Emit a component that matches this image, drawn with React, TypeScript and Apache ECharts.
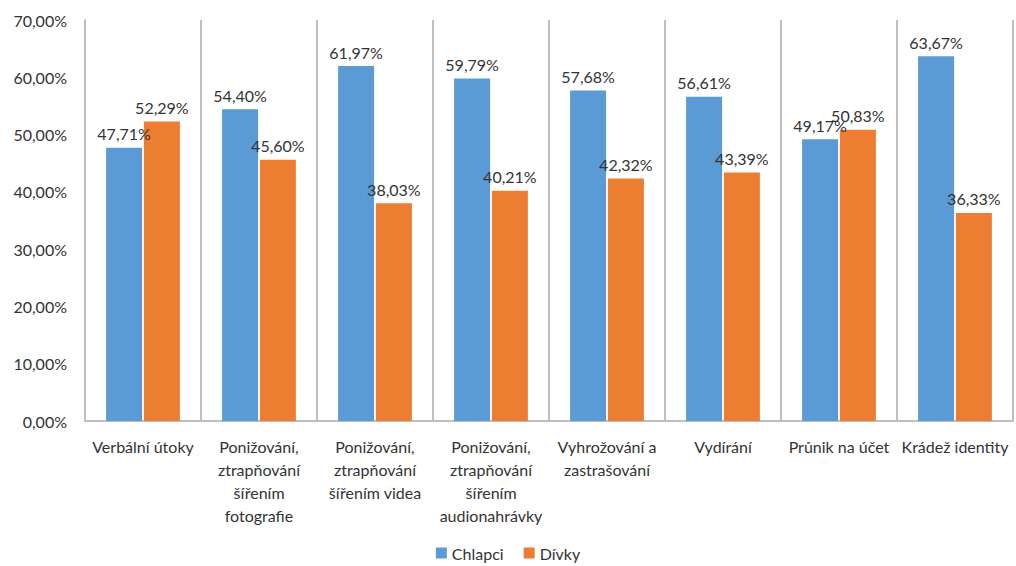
import React, { useEffect, useRef } from "react";
import * as echarts from "echarts";

const categories = [
  "Verbální útoky",
  "Ponižování,\nztrapňování\nšířením\nfotografie",
  "Ponižování,\nztrapňování\nšířením videa",
  "Ponižování,\nztrapňování\nšířením\naudionahrávky",
  "Vyhrožování a\nzastrašování",
  "Vydírání",
  "Průnik na účet",
  "Krádež identity",
];
const chlapci = [47.71, 54.4, 61.97, 59.79, 57.68, 56.61, 49.17, 63.67];
const divky = [52.29, 45.6, 38.03, 40.21, 42.32, 43.39, 50.83, 36.33];
const seriesNames = ["Chlapci", "Dívky"];

const fmt = (v: number) => v.toFixed(2).replace(".", ",") + "%";
const FONT = "Lato, 'Open Sans', sans-serif";
const TXT = "#333333";
const FS = 16;

export default function App() {
  const ref = useRef<HTMLDivElement>(null);
  useEffect(() => {
    if (!ref.current) return;
    const chart = echarts.init(ref.current, undefined, { renderer: "svg" });
    const label = {
      show: true,
      position: "top" as const,
      distance: 6,
      color: TXT,
      fontFamily: FONT,
      fontSize: FS,
      formatter: (p: any) => fmt(p.value),
    };
    chart.setOption({
      animation: false,
      backgroundColor: "#ffffff",
      textStyle: { fontFamily: FONT },
      grid: { left: 85, right: 3, top: 20, bottom: 145, containLabel: false },
      legend: {
        bottom: 0,
        left: "center",
        itemWidth: 11,
        itemHeight: 11,
        itemGap: 20,
        icon: "rect",
        textStyle: { color: TXT, fontFamily: FONT, fontSize: FS },
        data: seriesNames,
      },
      xAxis: {
        type: "category",
        data: categories,
        axisLine: { show: true, lineStyle: { color: "#bfbfbf", width: 2 } },
        axisTick: { show: false },
        splitLine: { show: true, interval: 0, lineStyle: { color: "#bfbfbf", width: 2 } },
        axisLabel: {
          interval: 0,
          color: TXT,
          fontFamily: FONT,
          fontSize: FS,
          lineHeight: 23,
          margin: 14,
          align: "center",
        },
      },
      yAxis: {
        type: "value",
        min: 0,
        max: 70,
        interval: 10,
        axisLine: { show: true, lineStyle: { color: "#bfbfbf", width: 2 } },
        axisTick: { show: false },
        splitLine: { show: false },
        axisLabel: {
          color: TXT,
          fontFamily: FONT,
          fontSize: FS,
          margin: 18,
          formatter: (v: number) => fmt(v),
        },
      },
      series: [
        {
          name: seriesNames[0],
          type: "bar",
          data: chlapci,
          barWidth: 36,
          barGap: "5%",
          itemStyle: { color: "#5b9bd5" },
          label,
        },
        {
          name: seriesNames[1],
          type: "bar",
          data: divky,
          barWidth: 36,
          itemStyle: { color: "#ed7d31" },
          label,
        },
      ],
    });
    return () => chart.dispose();
  }, []);
  return (
    <div
      ref={ref}
      style={{ position: "fixed", left: 0, top: 0, width: 1016, height: 566 }}
    />
  );
}
